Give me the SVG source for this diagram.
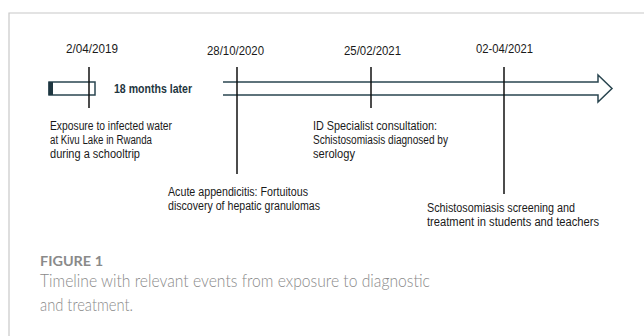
<svg xmlns="http://www.w3.org/2000/svg" width="644" height="336" viewBox="0 0 644 336">
<style>
.t{font-family:"Liberation Sans",Arial,sans-serif;font-size:12px;fill:#1a1a1a}
.b{font-family:"Liberation Sans",Arial,sans-serif;font-size:12px;font-weight:bold;fill:#1e3640}
.tick{stroke:#111;stroke-width:1.5;fill:none}
.bar{stroke:#2a4650;stroke-width:1.5;fill:#fff}
.cap{font-family:"Lato","Noto Sans",sans-serif;fill:#8a8a8a}
</style>
<rect width="644" height="336" fill="#fff"/>
<path d="M9,336 V13 H644" stroke="#c8c8c8" stroke-width="1.2" fill="none"/>
<g id="connectors">
<g id="bar1">
<rect x="49" y="82" width="46" height="13" class="bar"/>
<rect x="48.5" y="82" width="4.5" height="13" fill="#1e3640"/>
</g>
<path id="arrow" class="bar" d="M223,82 H598 V75 L612,88.5 L598,102 V95 H223"/>
<line class="tick" x1="89" y1="67" x2="89" y2="108"/>
<line class="tick" x1="237" y1="67" x2="237" y2="174"/>
<line class="tick" x1="371" y1="67" x2="371" y2="108"/>
<line class="tick" x1="504" y1="67" x2="504" y2="194"/>
</g>
<g id="e1">
<text class="t" x="66" y="53" textLength="52" lengthAdjust="spacingAndGlyphs">2/04/2019</text>
<text class="t" x="50" y="130" textLength="122" lengthAdjust="spacingAndGlyphs">Exposure to infected water</text>
<text class="t" x="50" y="144" textLength="102" lengthAdjust="spacingAndGlyphs">at Kivu Lake in Rwanda</text>
<text class="t" x="50" y="158" textLength="90" lengthAdjust="spacingAndGlyphs">during a schooltrip</text>
</g>
<g id="gap">
<text class="b" x="114" y="92.5" textLength="78" lengthAdjust="spacingAndGlyphs">18 months later</text>
</g>
<g id="e2">
<text class="t" x="207" y="55" textLength="57" lengthAdjust="spacingAndGlyphs">28/10/2020</text>
<text class="t" x="168" y="196" textLength="140" lengthAdjust="spacingAndGlyphs">Acute appendicitis: Fortuitous</text>
<text class="t" x="168" y="210" textLength="152" lengthAdjust="spacingAndGlyphs">discovery of hepatic granulomas</text>
</g>
<g id="e3">
<text class="t" x="344" y="55" textLength="57" lengthAdjust="spacingAndGlyphs">25/02/2021</text>
<text class="t" x="313" y="130" textLength="124" lengthAdjust="spacingAndGlyphs">ID Specialist consultation:</text>
<text class="t" x="313" y="144" textLength="135" lengthAdjust="spacingAndGlyphs">Schistosomiasis diagnosed by</text>
<text class="t" x="313" y="158" textLength="42" lengthAdjust="spacingAndGlyphs">serology</text>
</g>
<g id="e4">
<text class="t" x="476" y="53" textLength="57" lengthAdjust="spacingAndGlyphs">02-04/2021</text>
<text class="t" x="427" y="212" textLength="148" lengthAdjust="spacingAndGlyphs">Schistosomiasis screening and</text>
<text class="t" x="427" y="226" textLength="172" lengthAdjust="spacingAndGlyphs">treatment in students and teachers</text>
</g>
<g id="caption">
<text class="cap" x="40" y="266" font-size="13" font-weight="bold" textLength="63" lengthAdjust="spacingAndGlyphs">FIGURE 1</text>
<text class="cap" x="40" y="287" font-size="17.5" font-weight="300" textLength="390" lengthAdjust="spacingAndGlyphs">Timeline with relevant events from exposure to diagnostic</text>
<text class="cap" x="40" y="311" font-size="17.5" font-weight="300" textLength="93" lengthAdjust="spacingAndGlyphs">and treatment.</text>
</g>
</svg>
